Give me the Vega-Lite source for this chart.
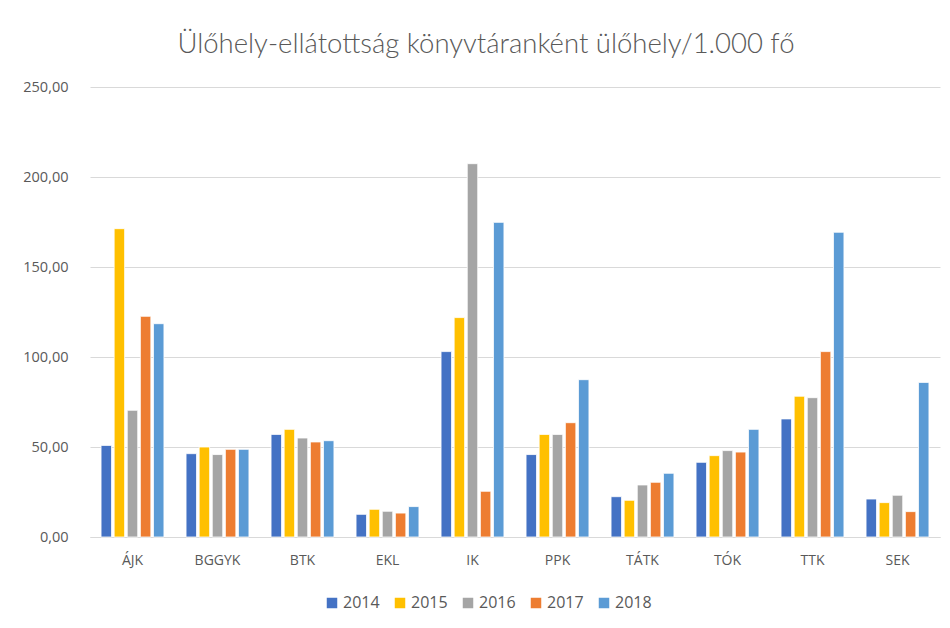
{
  "$schema": "https://vega.github.io/schema/vega-lite/v6.json",
  "autosize": {"type": "none"},
  "width": 850,
  "height": 450,
  "padding": {"left": 90, "top": 87, "right": 10, "bottom": 91},
  "background": "white",
  "config": {
    "locale": {"number": {"decimal": ",", "thousands": ".", "grouping": [3], "currency": ["", ""]}},
    "font": "Open Sans",
    "view": {"stroke": null}
  },
  "title": {
    "text": "Ülőhely-ellátottság  könyvtáranként  ülőhely/1.000 fő",
    "font": "Lato",
    "fontSize": 27.5,
    "fontWeight": 300,
    "color": "#595959",
    "anchor": "middle",
    "dx": -29,
    "offset": 21
  },
  "data": {
    "values": [
      {"kar": "ÁJK", "ev": "2014", "v": 50.9},
      {"kar": "ÁJK", "ev": "2015", "v": 171.3},
      {"kar": "ÁJK", "ev": "2016", "v": 70.4},
      {"kar": "ÁJK", "ev": "2017", "v": 122.6},
      {"kar": "ÁJK", "ev": "2018", "v": 118.5},
      {"kar": "BGGYK", "ev": "2014", "v": 46.3},
      {"kar": "BGGYK", "ev": "2015", "v": 50.0},
      {"kar": "BGGYK", "ev": "2016", "v": 45.8},
      {"kar": "BGGYK", "ev": "2017", "v": 48.7},
      {"kar": "BGGYK", "ev": "2018", "v": 48.7},
      {"kar": "BTK", "ev": "2014", "v": 57.0},
      {"kar": "BTK", "ev": "2015", "v": 59.8},
      {"kar": "BTK", "ev": "2016", "v": 55.0},
      {"kar": "BTK", "ev": "2017", "v": 52.8},
      {"kar": "BTK", "ev": "2018", "v": 53.5},
      {"kar": "EKL", "ev": "2014", "v": 12.6},
      {"kar": "EKL", "ev": "2015", "v": 15.4},
      {"kar": "EKL", "ev": "2016", "v": 14.3},
      {"kar": "EKL", "ev": "2017", "v": 13.3},
      {"kar": "EKL", "ev": "2018", "v": 16.9},
      {"kar": "IK", "ev": "2014", "v": 103.0},
      {"kar": "IK", "ev": "2015", "v": 121.9},
      {"kar": "IK", "ev": "2016", "v": 207.4},
      {"kar": "IK", "ev": "2017", "v": 25.4},
      {"kar": "IK", "ev": "2018", "v": 174.8},
      {"kar": "PPK", "ev": "2014", "v": 45.8},
      {"kar": "PPK", "ev": "2015", "v": 57.0},
      {"kar": "PPK", "ev": "2016", "v": 57.0},
      {"kar": "PPK", "ev": "2017", "v": 63.5},
      {"kar": "PPK", "ev": "2018", "v": 87.4},
      {"kar": "TÁTK", "ev": "2014", "v": 22.4},
      {"kar": "TÁTK", "ev": "2015", "v": 20.4},
      {"kar": "TÁTK", "ev": "2016", "v": 28.9},
      {"kar": "TÁTK", "ev": "2017", "v": 30.4},
      {"kar": "TÁTK", "ev": "2018", "v": 35.4},
      {"kar": "TÓK", "ev": "2014", "v": 41.5},
      {"kar": "TÓK", "ev": "2015", "v": 45.2},
      {"kar": "TÓK", "ev": "2016", "v": 48.0},
      {"kar": "TÓK", "ev": "2017", "v": 47.2},
      {"kar": "TÓK", "ev": "2018", "v": 59.8},
      {"kar": "TTK", "ev": "2014", "v": 65.6},
      {"kar": "TTK", "ev": "2015", "v": 78.2},
      {"kar": "TTK", "ev": "2016", "v": 77.4},
      {"kar": "TTK", "ev": "2017", "v": 103.0},
      {"kar": "TTK", "ev": "2018", "v": 169.3},
      {"kar": "SEK", "ev": "2014", "v": 21.1},
      {"kar": "SEK", "ev": "2015", "v": 19.1},
      {"kar": "SEK", "ev": "2016", "v": 23.2},
      {"kar": "SEK", "ev": "2017", "v": 14.1},
      {"kar": "SEK", "ev": "2018", "v": 85.9}
    ]
  },
  "mark": {"type": "bar", "stroke": "white", "strokeWidth": 0.8},
  "encoding": {
    "x": {
      "field": "kar",
      "type": "nominal",
      "sort": null,
      "scale": {"paddingInner": 0.26, "paddingOuter": 0.13},
      "axis": {
        "title": null,
        "labelAngle": 0,
        "labelColor": "#595959",
        "labelFontSize": 14,
        "labelPadding": 16,
        "ticks": false,
        "domainColor": "#D9D9D9",
        "domainWidth": 1
      }
    },
    "xOffset": {
      "field": "ev",
      "type": "nominal",
      "scale": {"paddingInner": 0.2, "paddingOuter": 0}
    },
    "y": {
      "field": "v",
      "type": "quantitative",
      "scale": {"domain": [0, 250]},
      "axis": {
        "title": null,
        "values": [0, 50, 100, 150, 200, 250],
        "format": ".2f",
        "labelColor": "#595959",
        "labelFontSize": 14.5,
        "labelPadding": 22,
        "ticks": false,
        "domain": false,
        "gridColor": "#D9D9D9",
        "gridWidth": 1
      }
    },
    "color": {
      "field": "ev",
      "type": "nominal",
      "scale": {
        "domain": ["2014", "2015", "2016", "2017", "2018"],
        "range": ["#4472C4", "#FFC000", "#A5A5A5", "#ED7D31", "#5B9BD5"]
      },
      "legend": {
        "title": null,
        "orient": "none",
        "legendX": 234,
        "legendY": 508,
        "direction": "horizontal",
        "symbolType": "square",
        "symbolSize": 110,
        "symbolStrokeWidth": 0,
        "labelColor": "#595959",
        "labelFontSize": 16,
        "columnPadding": 12,
        "labelOffset": 3
      }
    }
  }
}
